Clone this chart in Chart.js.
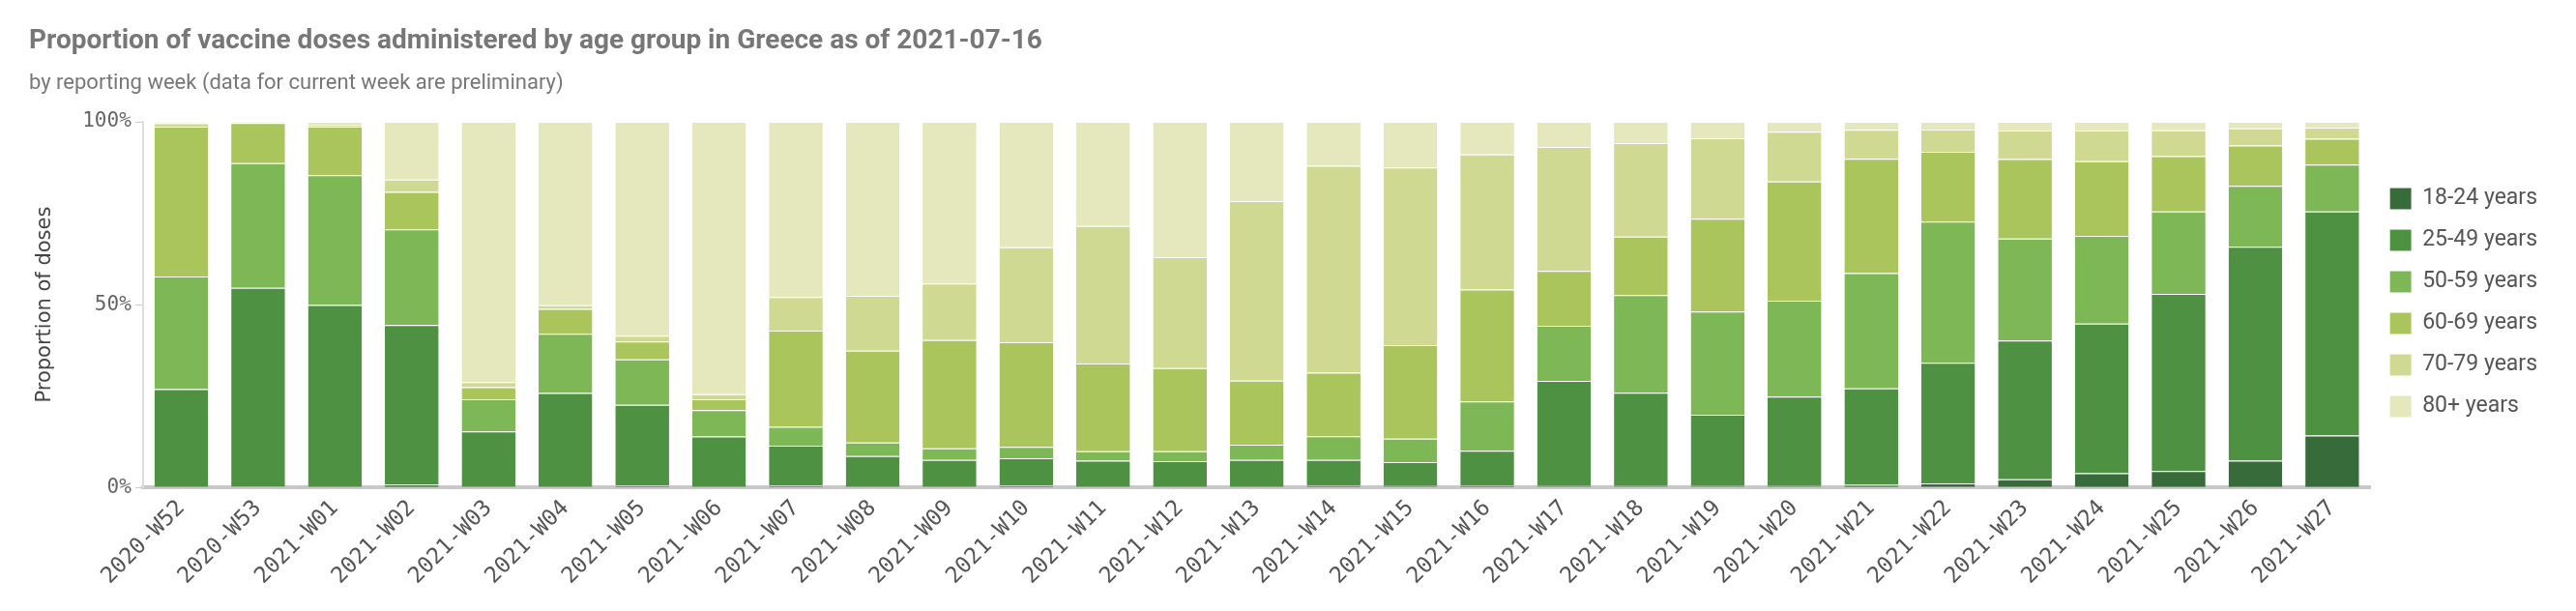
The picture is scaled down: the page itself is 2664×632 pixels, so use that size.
<!DOCTYPE html>
<html><head><meta charset="utf-8">
<script src="https://cdn.jsdelivr.net/npm/chart.js@4.4.0/dist/chart.umd.min.js"></script>
<style>html,body{margin:0;padding:0;background:#fff}#wrap{width:2664px;height:632px}</style>
</head><body><div id="wrap"><canvas id="c"></canvas></div>
<script>
const weeks = ["2020-W52","2020-W53","2021-W01","2021-W02","2021-W03","2021-W04","2021-W05","2021-W06","2021-W07","2021-W08","2021-W09","2021-W10","2021-W11","2021-W12","2021-W13","2021-W14","2021-W15","2021-W16","2021-W17","2021-W18","2021-W19","2021-W20","2021-W21","2021-W22","2021-W23","2021-W24","2021-W25","2021-W26","2021-W27"];
const ageGroups = ["18-24 years","25-49 years","50-59 years","60-69 years","70-79 years","80+ years"];
const age18_24 = [0.3,0.2,0.3,0.8,0.3,0.3,0.5,0.3,0.5,0.3,0.3,0.5,0.3,0.3,0.3,0.6,0.4,0.6,0.4,0.4,0.4,0.4,0.7,1.1,2.2,3.9,4.5,7.3,14.2];
const age25_49 = [26.6,54.4,49.6,43.6,15.0,25.5,22.1,13.6,10.9,8.3,7.2,7.5,7.0,6.9,7.2,6.9,6.5,9.4,28.7,25.5,19.5,24.4,26.4,33.0,38.0,40.9,48.4,58.5,61.3];
const age50_59 = [30.8,34.1,35.5,26.2,8.8,16.2,12.4,7.2,5.2,3.7,3.2,3.1,2.6,2.7,4.2,6.5,6.4,13.5,15.1,26.7,28.2,26.3,31.5,38.6,27.9,24.0,22.6,16.7,12.8];
const age60_69 = [41.0,11.0,13.3,10.2,3.3,6.8,4.9,3.0,26.3,25.1,29.6,28.6,24.0,22.7,17.5,17.4,25.6,30.6,15.0,16.0,25.4,32.6,31.3,19.1,21.7,20.4,15.1,11.0,7.1];
const age70_79 = [0.9,0.2,0.3,3.4,1.4,1.0,1.6,1.4,9.2,15.0,15.5,26.0,37.6,30.4,49.1,56.6,48.6,37.0,33.9,25.6,22.0,13.6,7.9,6.1,7.8,8.4,7.1,4.7,3.0];
const age80plus = [0.4,0.1,1.0,15.8,71.2,50.2,58.5,74.5,47.9,47.6,44.2,34.3,28.5,37.0,21.7,12.0,12.5,8.9,6.9,5.8,4.5,2.7,2.2,2.1,2.4,2.4,2.3,1.8,1.6];
const yTicks = [0,50,100];
const colors = ["#386b3a","#4e9142","#7db756","#a9c55b","#cfd992","#e5e7bc"];
const series = [age18_24,age25_49,age50_59,age60_69,age70_79,age80plus];

new Chart(document.getElementById('c'), {
  type:'bar',
  data:{labels:weeks, datasets: series.map((d,i)=>({label:ageGroups[i], data:d, backgroundColor:colors[i], borderColor:'rgba(255,255,255,0.45)', borderWidth:{top:1,bottom:0,left:0,right:0}, borderSkipped:false, barPercentage:0.7, categoryPercentage:1}))},
  options:{
    responsive:true, maintainAspectRatio:false, animation:false,
    layout:{padding:{left:30,right:30,top:8,bottom:14}},
    plugins:{
      title:{display:true, text:'Proportion of vaccine doses administered by age group in Greece as of 2021-07-16', align:'start', color:'#777', font:{family:'Roboto', weight:'bold', size:28}, padding:{top:18,bottom:14}},
      subtitle:{display:true, text:'by reporting week (data for current week are preliminary)', align:'start', color:'#777', font:{family:'Roboto', size:22}, padding:{bottom:26}},
      legend:{position:'right', align:'center', labels:{boxWidth:22, boxHeight:22, padding:20, color:'#555', font:{family:'Roboto', size:23}}},
      tooltip:{enabled:false}
    },
    scales:{
      x:{stacked:true, grid:{display:false, drawTicks:false}, border:{color:'#c8c8c8', width:4}, ticks:{color:'#555', maxRotation:45, minRotation:45, padding:8, font:{family:'DejaVu Sans Mono', size:23}}},
      y:{stacked:true, min:0, max:100, afterBuildTicks:ax=>{ax.ticks=yTicks.map(v=>({value:v}));}, grid:{display:true, drawOnChartArea:false, tickLength:8, color:'#ccc'}, border:{color:'#ddd', width:2}, ticks:{color:'#666', padding:4, font:{family:'DejaVu Sans Mono', size:21}, callback:v=>v+'%'},
        title:{display:true, text:'Proportion of doses', color:'#444', font:{family:'DejaVu Sans', size:21}, padding:{bottom:22}}}
    }
  }
});
</script></body></html>
